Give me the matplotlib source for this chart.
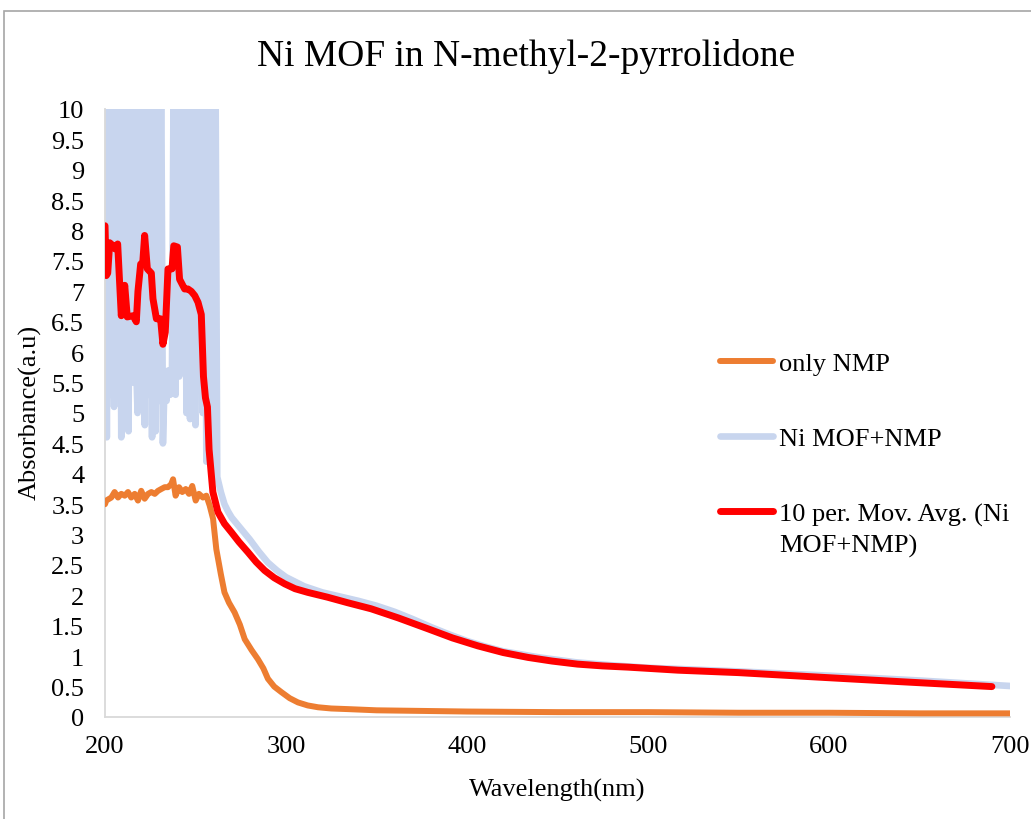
import matplotlib
matplotlib.use("Agg")
import matplotlib.pyplot as plt
from matplotlib.patches import Rectangle
from matplotlib.transforms import IdentityTransform

plt.rcParams['font.family'] = ['Liberation Serif', 'DejaVu Serif']

# ---------------- data ----------------
title = "Ni MOF in N-methyl-2-pyrrolidone"
x_label = "Wavelength(nm)"
y_label = "Absorbance(a.u)"
series_names = ["only NMP", "Ni MOF+NMP", "10 per. Mov. Avg. (Ni", "MOF+NMP)"]

x_ticks = [200, 300, 400, 500, 600, 700]
y_ticks = [0, 0.5, 1, 1.5, 2, 2.5, 3, 3.5, 4, 4.5, 5, 5.5, 6, 6.5, 7, 7.5, 8, 8.5, 9, 9.5, 10]
y_tick_labels = ["0", "0.5", "1", "1.5", "2", "2.5", "3", "3.5", "4", "4.5", "5", "5.5",
                 "6", "6.5", "7", "7.5", "8", "8.5", "9", "9.5", "10"]

nmp_wl = [200, 200.7, 203.5, 205.3, 207.2, 209, 210.9, 212.7, 214.5, 216.4,
          218.2, 220, 221.9, 223.8, 225.6, 227.5, 229.3, 231.1, 233, 234.8,
          236.6, 237.6, 239, 240.9, 242.7, 244.6, 246.4, 248.2, 250.1, 251.9,
          254.1, 256, 257.8, 259.7, 261.5, 264, 266, 268.5, 271.6, 274.5,
          277.2, 281, 284.5, 287.5, 290, 293.5, 297.4, 302, 306.6, 312,
          317.7, 325, 334, 350, 375, 400, 450, 500, 550, 600, 650, 700]
nmp_abs = [3.50, 3.56, 3.61, 3.70, 3.61, 3.67, 3.64, 3.70, 3.61, 3.67,
           3.56, 3.72, 3.59, 3.67, 3.70, 3.67, 3.72, 3.75, 3.78, 3.78,
           3.83, 3.91, 3.64, 3.78, 3.70, 3.75, 3.67, 3.80, 3.56, 3.67,
           3.61, 3.64, 3.48, 3.26, 2.76, 2.35, 2.05, 1.88, 1.72, 1.52,
           1.28, 1.10, 0.95, 0.80, 0.63, 0.50, 0.41, 0.31, 0.24, 0.19,
           0.16, 0.14, 0.13, 0.11, 0.10, 0.09, 0.08, 0.08, 0.07, 0.07, 0.06, 0.06]

mof_wl = [200, 201, 202, 203, 204, 205, 206, 207, 208, 209,
          210, 211, 212, 213, 214, 215, 216, 217, 218, 219,
          220, 221, 222, 223, 224, 225, 226, 227, 228, 229,
          230, 231, 232, 233, 234, 235, 236, 237, 238, 239,
          240, 241, 242, 243, 244, 245, 246, 247, 248, 249,
          250, 251, 252, 253, 254, 255, 256, 257, 258, 259,
          260, 261, 262, 264, 266, 268, 270, 275, 280, 285,
          290, 295, 300, 310, 320, 330, 340, 350, 360, 370,
          380, 390, 400, 410, 420, 440, 460, 480, 500, 550,
          600, 650, 700]
mof_abs = [11, 4.6, 11, 5.3, 11, 5.1, 11, 5.4, 11, 4.6,
           11, 5.6, 11, 4.7, 11, 5.5, 11, 6.0, 5.0, 11,
           5.6, 11, 4.8, 11, 5.3, 11, 4.6, 11, 4.7, 11,
           5.2, 11, 4.5, 5.6, 5.2, 5.7, 5.3, 5.6, 11, 5.3,
           11, 5.6, 11, 6.0, 11, 5.0, 11, 4.9, 11, 5.2,
           4.8, 11, 5.6, 11, 5.0, 11, 4.2, 11, 4.3, 11,
           4.1, 11, 3.95, 3.70, 3.50, 3.38, 3.28, 3.10, 2.92, 2.72,
           2.54, 2.41, 2.30, 2.15, 2.05, 1.98, 1.91, 1.83, 1.73, 1.61,
           1.48, 1.36, 1.25, 1.16, 1.08, 0.98, 0.90, 0.85, 0.81, 0.75,
           0.68, 0.60, 0.51]

avg_wl = [200, 200.7, 201.5, 202.6, 204.5, 205.5, 207, 209, 210.9, 212.3,
          215.5, 217.3, 218.2, 219.7, 220.8, 221.9, 223.4, 225.6, 226.5, 228.4,
          230.7, 232, 233.3, 234.8, 237, 238, 240, 241.2, 244, 245.8,
          247.7, 249.6, 251.4, 253.2, 254.4, 255.5, 256.6, 257.5, 258.7, 259.6,
          262.4, 266, 269.8, 274, 279, 283.5, 288.2, 293.5, 299.3, 305,
          312, 323, 334, 347, 362, 378.5, 392, 406, 420, 433.7,
          447, 461, 475, 489, 516.6, 550, 597.6, 640, 690]
avg_abs = [8.08, 7.26, 7.30, 7.80, 7.75, 7.70, 7.78, 6.60, 7.10, 6.58,
           6.60, 6.50, 7.00, 7.45, 7.45, 7.92, 7.37, 7.30, 6.88, 6.55,
           6.55, 6.13, 6.33, 7.37, 7.37, 7.75, 7.73, 7.20, 7.04, 7.04,
           7.00, 6.93, 6.82, 6.62, 5.60, 5.25, 5.10, 4.40, 4.00, 3.70,
           3.37, 3.18, 3.04, 2.88, 2.71, 2.55, 2.41, 2.29, 2.19, 2.11,
           2.05, 1.97, 1.88, 1.78, 1.63, 1.45, 1.30, 1.17, 1.06, 0.98,
           0.92, 0.87, 0.84, 0.82, 0.77, 0.73, 0.65, 0.58, 0.50]

# ---------------- figure ----------------
W, H = 1031, 820
fig = plt.figure(figsize=(W / 100, H / 100), dpi=100)
fig.patches.append(Rectangle((4 / W, -0.1), 1.2, 1 - 12 / H + 0.1,
                             transform=fig.transFigure, fill=False,
                             edgecolor='#A6A6A6', linewidth=1.2))

ax = fig.add_axes([105 / W, 1 - 718 / H, (1010 - 105) / W, (718 - 110) / H])

l_mof, = ax.plot(mof_wl, mof_abs, color='#C8D5EE', lw=4.8,
                 solid_capstyle='round', solid_joinstyle='round', zorder=2)
l_nmp, = ax.plot(nmp_wl, nmp_abs, color='#ED7D31', lw=4.3,
                 solid_capstyle='round', solid_joinstyle='round', zorder=3)
l_avg, = ax.plot(avg_wl, avg_abs, color='#FF0000', lw=5.0,
                 solid_capstyle='round', solid_joinstyle='round', zorder=4)

ax.set_xlim(200, 700)
ax.set_ylim(0, 10)
ax.set_xticks(x_ticks)
ax.set_xticklabels([str(t) for t in x_ticks])
ax.set_yticks(y_ticks)
ax.set_yticklabels(y_tick_labels)
ax.tick_params(axis='both', length=0, labelsize=19)
ax.tick_params(axis='x', pad=13)
ax.tick_params(axis='y', pad=15)
for s in ['top', 'right']:
    ax.spines[s].set_visible(False)
for s in ['left', 'bottom']:
    ax.spines[s].set_color('#D9D9D9')
    ax.spines[s].set_linewidth(1.3)

fig.text(526 / W, 1 - 57 / H, title, ha='center', va='center', fontsize=27)
fig.text(557 / W, 1 - 790 / H, x_label, ha='center', va='center', fontsize=19)
fig.text(30 / W, 1 - 412 / H, y_label, ha='center', va='center', fontsize=19,
         rotation=90)

leg = ax.legend([l_nmp, l_mof, l_avg], series_names[:3],
                loc='upper left', bbox_to_anchor=(720 / W, 1 - 353 / H),
                bbox_transform=fig.transFigure, frameon=False, fontsize=19,
                handlelength=2.0, handletextpad=0.25, labelspacing=1.95,
                borderpad=0, borderaxespad=0)

fig.canvas.draw()
bb = leg.get_texts()[2].get_window_extent()
fig.text(bb.x0, bb.y0 - 8, series_names[3], ha='left', va='top', fontsize=19,
         transform=IdentityTransform())

fig.savefig("out.png", dpi=100)
